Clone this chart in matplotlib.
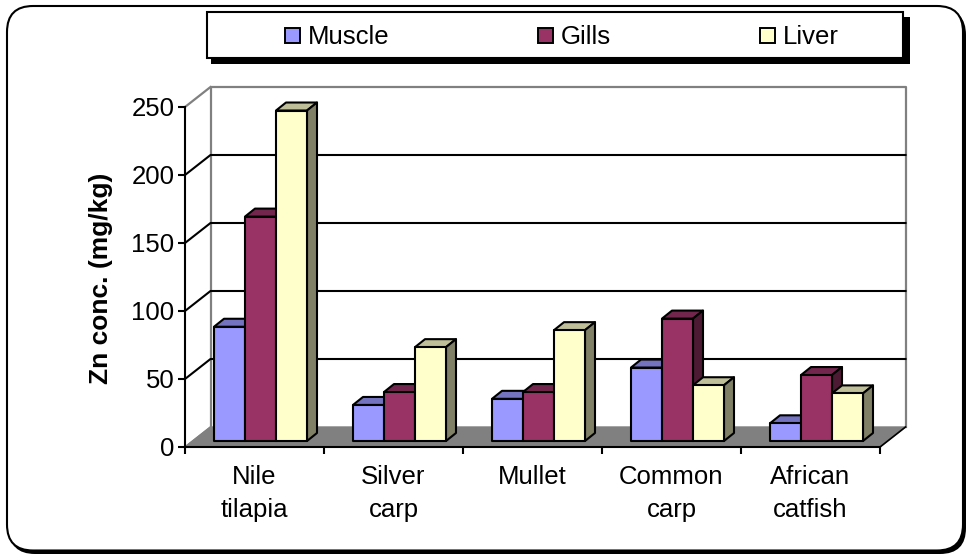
#!/usr/bin/env python3

import matplotlib
matplotlib.use("Agg")
import matplotlib.pyplot as plt
from matplotlib.patches import FancyBboxPatch, Polygon, Rectangle

W, H = 968, 556

categories = ["Nile\ntilapia", "Silver\ncarp", "Mullet", "Common\ncarp", "African\ncatfish"]
series_names = ["Muscle", "Gills", "Liver"]
muscle = [84, 26.5, 31, 54, 13]
gills = [165, 36, 36, 90, 48.5]
liver = [243, 69, 81.5, 41, 35]
y_ticks = [0, 50, 100, 150, 200, 250]

fronts = ["#9999ff", "#993366", "#ffffcc"]
tops = ["#7373bf", "#73264d", "#bfbf99"]
sides = ["#7373bf", "#4d1a33", "#808066"]

plt.rcParams["font.family"] = ["Liberation Sans", "DejaVu Sans"]

fig = plt.figure(figsize=(W / 100, H / 100), dpi=100)

# background layer in pixel coords: frame and legend box
bg = fig.add_axes([0, 0, 1, 1])
bg.set_xlim(0, W)
bg.set_ylim(H, 0)
bg.axis("off")
r = 26
bg.add_patch(FancyBboxPatch((9 + r, 9 + r), 957 - r * 2, 545 - r * 2, boxstyle="round,pad=%d,rounding_size=%d" % (r, r),
                            fc="black", ec="black", lw=0))
bg.add_patch(FancyBboxPatch((7 + r, 6 + r), 956 - r * 2, 544.5 - r * 2, boxstyle="round,pad=%d,rounding_size=%d" % (r, r),
                            fc="white", ec="black", lw=1.5))
bg.add_patch(Rectangle((211, 17), 699, 47, fc="black", ec="none"))
bg.add_patch(Rectangle((207, 12), 696, 46, fc="white", ec="black", lw=1.5))

leg_x = [285, 538, 760]
for i, name in enumerate(series_names):
    bg.add_patch(Rectangle((leg_x[i], 28), 15, 15, fc=fronts[i], ec="black", lw=1.4))
    bg.text(leg_x[i] + 23, 35, name, fontsize=18.5, va="center_baseline", ha="left")

# front plane of the chart
x0, x1, y0, y1 = 185, 880, 447, 107
ax = fig.add_axes([x0 / W, 1 - y0 / H, (x1 - x0) / W, (y0 - y1) / H])
ax.set_xlim(0, len(categories))
ax.set_ylim(0, 250)
ax.patch.set_alpha(0)
for s in ["top", "right"]:
    ax.spines[s].set_visible(False)
ax.spines["left"].set_linewidth(1.5)
ax.spines["bottom"].set_linewidth(1.5)

px = len(categories) / (x1 - x0)
py = 250 / (y0 - y1)
depth_x = 25.5 * px
depth_y = 20 * py


def poly(pts, fc, ec="black", lw=1.5, z=2):
    ax.add_patch(Polygon(pts, closed=True, fc=fc, ec=ec, lw=lw, zorder=z, clip_on=False, joinstyle="round"))


# floor and back wall
n = len(categories)
poly([(0, 0), (n, 0), (n + depth_x, depth_y), (depth_x, depth_y)], "#808080", ec="#808080", lw=1, z=1)
ax.plot([depth_x, depth_x, n + depth_x, n + depth_x], [depth_y, 250 + depth_y, 250 + depth_y, depth_y],
        color="#808080", lw=1.6, zorder=1, clip_on=False)
ax.plot([0, depth_x], [250, 250 + depth_y], color="#808080", lw=1.6, zorder=1, clip_on=False)
ax.plot([0, depth_x], [0, depth_y], color="#808080", lw=1.2, zorder=1, clip_on=False)
ax.plot([n, n + depth_x], [0, depth_y], color="black", lw=1.2, zorder=1, clip_on=False)
for t in y_ticks[1:-1]:
    ax.plot([0, depth_x, n + depth_x], [t, t + depth_y, t + depth_y], color="black", lw=1.5, zorder=1, clip_on=False)

# bars
bar_w = 31 * px
start = 29 * px
base = 6 * py
dx = 10 * px
dy = 8 * py
for g in range(n):
    for s, vals in enumerate([muscle, gills, liver]):
        left = g + start + s * bar_w
        right = left + bar_w
        top = vals[g] + base
        poly([(left, top), (left + dx, top + dy), (right + dx, top + dy), (right, top)], tops[s])
        poly([(right, base), (right + dx, base + dy), (right + dx, top + dy), (right, top)], sides[s])
        poly([(left, base), (right, base), (right, top), (left, top)], fronts[s])

ax.set_yticks(y_ticks)
ax.set_xticks(range(n + 1))
ax.set_xticklabels([])
ax.set_xticks([i + 0.5 for i in range(n)], minor=True)
ax.set_xticklabels(categories, minor=True, fontsize=18.5, linespacing=1.45)
ax.tick_params(axis="x", which="major", length=5, width=1.5, direction="out")
ax.tick_params(axis="x", which="minor", length=0, pad=13)
ax.tick_params(axis="y", length=5, width=1.5, labelsize=18.5, pad=2.5)
ax.set_ylabel("Zn conc. (mg/kg)", fontsize=19, fontweight="bold", labelpad=13, y=0.495)

fig.savefig("out.png", dpi=100)
